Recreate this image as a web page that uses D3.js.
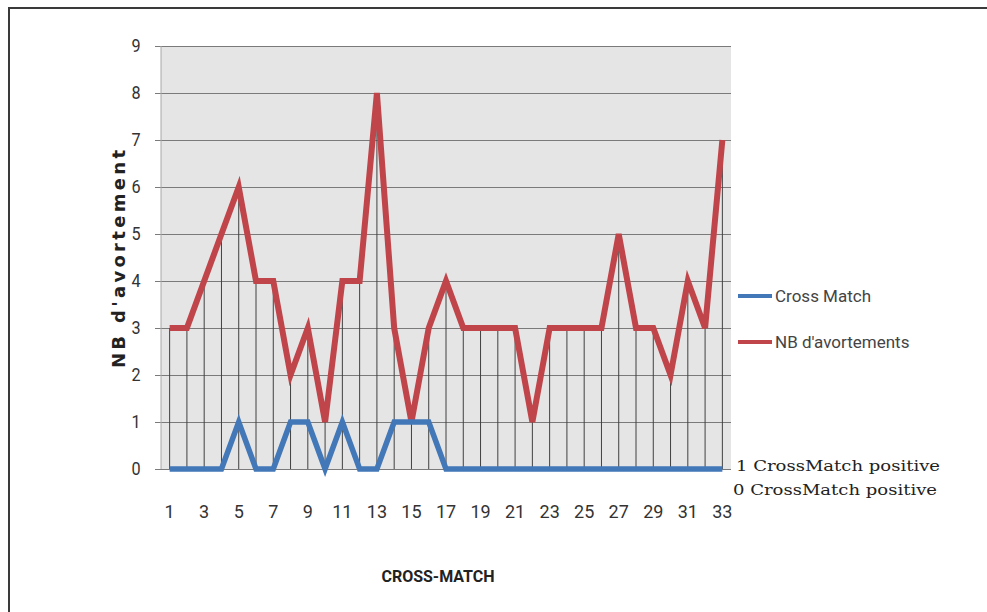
<!DOCTYPE html>
<html>
<head>
<meta charset="utf-8">
<script src="https://cdn.jsdelivr.net/npm/d3@7"></script>
<style>
  html, body { margin: 0; padding: 0; background: #ffffff; }
  svg { display: block; }
</style>
</head>
<body>
<svg id="chart" width="987" height="612"></svg>
<script>
// Case numbers on the category axis
const categories = d3.range(1, 34);
// Number of abortions per case
const avortements = [3, 3, 4, 5, 6, 4, 4, 2, 3, 1, 4, 4, 8, 3, 1, 3, 4,
                     3, 3, 3, 3, 1, 3, 3, 3, 3, 5, 3, 3, 2, 4, 3, 7];
// Cross-match result per case (1 = positive, 0 = negative)
const crossMatch = [0, 0, 0, 0, 1, 0, 0, 1, 1, 0, 1, 0, 0, 1, 1, 1, 0,
                    0, 0, 0, 0, 0, 0, 0, 0, 0, 0, 0, 0, 0, 0, 0, 0];
const yTicks = d3.range(0, 10);
const xTickLabels = categories.filter(c => c % 2 === 1);
const seriesNames = ["Cross Match", "NB d'avortements"];
const noteLines = ["1 CrossMatch positive", "0 CrossMatch positive"];

const svg = d3.select("#chart");
const narrow = "'Liberation Sans Narrow', 'Arial Narrow', Roboto, sans-serif";

const plot = { left: 161, right: 731, top: 46, bottom: 469 };

const x = d3.scaleBand().domain(categories).range([plot.left, plot.right]);
const cx = c => x(c) + x.bandwidth() / 2;
const y = d3.scaleLinear().domain([0, 9]).range([plot.bottom, plot.top]);

// Chart frame (top and left edges)
svg.append("path")
  .attr("d", "M9,612 V8 H987")
  .attr("fill", "none").attr("stroke", "#3a3a3a").attr("stroke-width", 2);

// Plot background
svg.append("rect")
  .attr("x", plot.left).attr("y", plot.top)
  .attr("width", plot.right - plot.left).attr("height", plot.bottom - plot.top)
  .attr("fill", "#e5e5e5");

// Y axis with gridlines across the plot
const yAxis = d3.axisLeft(y).tickValues(yTicks)
  .tickSize(-(plot.right - plot.left + 6)).tickPadding(14);
const gy = svg.append("g")
  .attr("transform", `translate(${plot.left - 6},0)`)
  .call(yAxis);
gy.select(".domain").remove();
gy.selectAll(".tick line")
  .attr("x1", 0)
  .attr("stroke", "#7a7a7a").attr("stroke-width", 1.2);
gy.selectAll(".tick text")
  .attr("font-family", narrow).attr("font-size", 18).attr("fill", "#333")
  .attr("transform", "scale(0.9,1)").attr("x", -16);

// Vertical axis line
svg.append("line")
  .attr("x1", plot.left).attr("x2", plot.left)
  .attr("y1", plot.top).attr("y2", plot.bottom)
  .attr("stroke", "#a8a8a8");

// Drop lines from each point down to the category axis
svg.append("g").selectAll("line")
  .data(categories)
  .join("line")
  .attr("x1", c => cx(c)).attr("x2", c => cx(c))
  .attr("y1", (c, i) => y(Math.max(avortements[i], crossMatch[i])))
  .attr("y2", y(0))
  .attr("stroke", "#404040").attr("stroke-width", 1);

// X axis labels (odd case numbers)
const xAxis = d3.axisBottom(x).tickValues(xTickLabels).tickSize(0).tickPadding(36);
const gx = svg.append("g")
  .attr("transform", `translate(0,${plot.bottom})`)
  .call(xAxis);
gx.select(".domain").remove();
gx.selectAll(".tick text")
  .attr("font-family", narrow).attr("font-size", 18).attr("fill", "#333");

// Series lines
const line = d3.line().x((d, i) => cx(categories[i])).y(d => y(d));
svg.append("path")
  .datum(avortements)
  .attr("d", line)
  .attr("fill", "none").attr("stroke", "#c0454a")
  .attr("stroke-width", 6).attr("stroke-linejoin", "miter");
svg.append("path")
  .datum(crossMatch)
  .attr("d", line)
  .attr("fill", "none").attr("stroke", "#4277b8")
  .attr("stroke-width", 5.5).attr("stroke-linejoin", "miter");

// Axis titles
svg.append("text")
  .attr("transform", "translate(125,259) rotate(-90)")
  .attr("text-anchor", "middle")
  .attr("font-family", "'DejaVu Sans', Verdana, sans-serif")
  .attr("font-weight", "bold").attr("font-size", 18)
  .attr("fill", "#222")
  .attr("textLength", 218).attr("lengthAdjust", "spacing")
  .text("NB d'avortement");

svg.append("text")
  .attr("x", 438).attr("y", 582)
  .attr("text-anchor", "middle")
  .attr("font-family", narrow).attr("font-weight", "bold").attr("font-size", 16)
  .attr("fill", "#222")
  .text("CROSS-MATCH");

// Legend
const legendColors = ["#4277b8", "#c0454a"];
const legend = svg.append("g").selectAll("g")
  .data(seriesNames)
  .join("g")
  .attr("transform", (d, i) => `translate(738,${296 + i * 46})`);
legend.append("line")
  .attr("x1", 0).attr("x2", 34)
  .attr("stroke", (d, i) => legendColors[i]).attr("stroke-width", 4);
legend.append("text")
  .attr("x", 37).attr("y", 6)
  .attr("font-family", narrow).attr("font-size", 17).attr("fill", "#444")
  .text(d => d);

// Notes explaining the cross-match coding
svg.append("g").selectAll("text")
  .data(noteLines)
  .join("text")
  .attr("x", (d, i) => i === 0 ? 736 : 733)
  .attr("y", (d, i) => 471 + i * 24)
  .attr("font-family", "'DejaVu Serif', 'Liberation Serif', serif")
  .attr("font-size", 15).attr("fill", "#222")
  .attr("textLength", 204).attr("lengthAdjust", "spacingAndGlyphs")
  .text(d => d);
</script>
</body>
</html>
